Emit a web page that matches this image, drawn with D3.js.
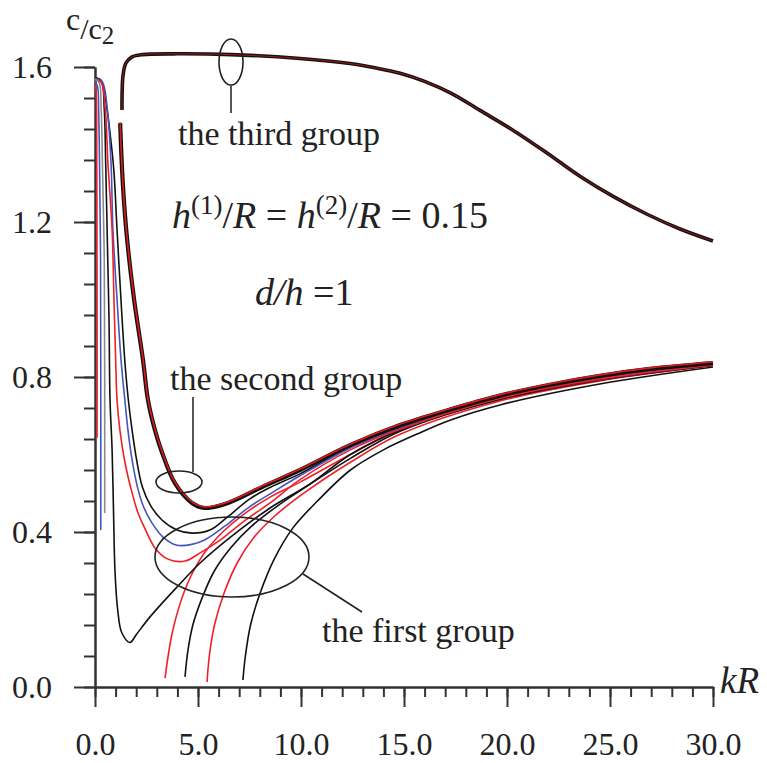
<!DOCTYPE html>
<html>
<head>
<meta charset="utf-8">
<script src="https://cdn.jsdelivr.net/npm/d3@7"></script>
<style>
body { margin: 0; background: #fff; }
text { font-family: "Liberation Serif", "Times New Roman", serif; fill: #222; }
</style>
</head>
<body>
<div id="wrap"></div>
<script>
// tick values
var xMajor = [0, 5, 10, 15, 20, 25, 30];
var yMajor = [0, 0.4, 0.8, 1.2, 1.6];

// curves: [kR, c/c2]
var third = [[1.31,1.489],[1.32,1.54],[1.36,1.578],[1.5,1.61],[1.8,1.626],[2.3,1.632],[4.0,1.634],[6.6,1.632],[9.95,1.622],[12.38,1.609],[13.6,1.598],[14.81,1.584],[16.0,1.563],[17.3,1.532],[18.69,1.488],[20.29,1.437],[21.94,1.378],[23.54,1.318],[25.15,1.266],[26.80,1.220],[28.40,1.182],[30.0,1.151]];

var second = [[1.22,1.455],[1.35,1.30],[1.55,1.16],[1.9,0.999],[2.33,0.844],[2.57,0.741],[2.91,0.663],[3.25,0.606],[3.88,0.526],[4.71,0.475],[5.34,0.462],[6.46,0.475],[8.11,0.516],[9.95,0.560],[12.38,0.624],[14.81,0.676],[17.23,0.716],[19.66,0.752],[22.09,0.780],[24.51,0.803],[26.94,0.821],[30.0,0.836]];

var red1 = [[0.0,1.555],[0.05,1.54],[0.08,1.48],[0.09,1.3],[0.1,1.0],[0.1,0.643]];
var blue1 = [[0.0,1.562],[0.12,1.55],[0.18,1.48],[0.22,1.35],[0.27,1.1],[0.28,0.8],[0.28,0.405]];
var gray1 = [[0.0,1.568],[0.2,1.56],[0.3,1.49],[0.36,1.35],[0.45,1.1],[0.47,0.8],[0.47,0.449]];
var black3 = [[0.0,1.572],[0.3,1.565],[0.45,1.49],[0.52,1.35],[0.62,1.1],[0.68,0.95],[0.73,0.74],[0.83,0.612],[0.9,0.45],[0.97,0.30],[1.1,0.2],[1.3,0.14],[1.7,0.115],[2.0,0.135],[2.67,0.181],[3.98,0.258],[5.10,0.32],[6.70,0.392],[8.50,0.462],[10.44,0.524],[12.4,0.60],[14.81,0.663],[19.66,0.743],[24.5,0.794],[30,0.831]];
var red2 = [[0.0,1.568],[0.3,1.56],[0.5,1.49],[0.63,1.35],[0.83,1.18],[0.92,1.0],[1.0,0.85],[1.07,0.74],[1.21,0.663],[1.46,0.578],[1.80,0.501],[2.09,0.449],[2.43,0.408],[2.91,0.359],[3.54,0.330],[4.37,0.325],[5.10,0.346],[6.07,0.379],[7.28,0.43],[8.5,0.475],[9.95,0.535],[12.4,0.612],[14.81,0.665],[19.66,0.745],[24.5,0.795],[30,0.831]];
var blue2 = [[0.0,1.57],[0.35,1.562],[0.6,1.49],[0.78,1.35],[0.87,1.18],[1.07,1.0],[1.27,0.84],[1.45,0.74],[1.6,0.663],[1.8,0.586],[2.07,0.514],[2.38,0.462],[2.77,0.423],[3.30,0.387],[3.98,0.366],[4.7,0.368],[5.34,0.38],[6.3,0.415],[7.5,0.465],[8.7,0.505],[9.95,0.545],[12.4,0.617],[14.81,0.667],[19.66,0.746],[24.5,0.796],[30,0.832]];
var black2 = [[0.0,1.572],[0.3,1.565],[0.5,1.52],[0.75,1.42],[0.92,1.33],[1.07,1.18],[1.26,1.0],[1.45,0.84],[1.62,0.74],[1.8,0.663],[2.02,0.586],[2.3,0.516],[2.7,0.468],[3.25,0.431],[3.98,0.405],[4.71,0.397],[5.58,0.405],[6.46,0.44],[7.5,0.485],[8.5,0.515],[9.95,0.55],[12.4,0.62],[14.81,0.669],[19.66,0.747],[24.5,0.797],[30,0.832]];
var red3 = [[3.40,0.023],[3.55,0.08],[3.75,0.14],[4.1,0.21],[4.6,0.28],[5.3,0.345],[6.2,0.40],[7.2,0.445],[8.5,0.49],[10,0.53],[12.4,0.60],[14.81,0.664],[19.66,0.744],[24.5,0.793],[30,0.831]];
var black4 = [[4.37,0.026],[4.5,0.09],[4.75,0.16],[5.2,0.23],[5.8,0.30],[6.6,0.36],[7.6,0.415],[8.8,0.465],[10.2,0.515],[12.4,0.59],[14.81,0.66],[19.66,0.742],[24.5,0.792],[30,0.830]];
var red5 = [[5.44,0.013],[5.55,0.08],[5.8,0.16],[6.25,0.24],[6.9,0.32],[7.7,0.385],[8.7,0.44],[10,0.495],[12.4,0.58],[14.81,0.652],[19.66,0.738],[24.5,0.79],[30,0.829]];
var black6 = [[7.18,0.018],[7.3,0.08],[7.55,0.16],[8.0,0.24],[8.7,0.33],[9.6,0.41],[10.8,0.48],[12.4,0.56],[14.0,0.612],[15.6,0.652],[17.2,0.688],[19.66,0.728],[24.5,0.782],[30,0.826]];

var firstGroup = [
  {pts: black6, color: '#111'},
  {pts: red5, color: '#f0202a'},
  {pts: black4, color: '#111'},
  {pts: red3, color: '#f0202a'},
  {pts: black3, color: '#111'},
  {pts: black2, color: '#111'},
  {pts: blue2, color: '#4455bb'},
  {pts: red2, color: '#f0202a'},
  {pts: gray1, color: '#8a8a8a'},
  {pts: blue1, color: '#4455bb'},
  {pts: red1, color: '#f0202a'}
];

var width = 767, height = 763;

var x = d3.scaleLinear().domain([0, 30]).range([95, 713]),
    y = d3.scaleLinear().domain([0, 1.6]).range([687, 67]);

var svg = d3.select('#wrap').append('svg')
    .attr('width', width)
    .attr('height', height);

var line = d3.line()
    .x(function(d){ return x(d[0]); })
    .y(function(d){ return y(d[1]); })
    .curve(d3.curveCatmullRom.alpha(0.5));

// axes: minor then major ticks
function styleAxis(g) {
  g.selectAll('path, line').attr('stroke', '#333').attr('stroke-width', 2);
  g.selectAll('text').style('font-size', '32px').attr('fill', '#222')
    .style('font-family', '"Liberation Serif", serif');
}

svg.append('g').attr('transform', 'translate(0,687)')
  .call(d3.axisBottom(x).tickValues(d3.range(0, 31, 1)).tickSize(10).tickFormat('').tickSizeOuter(0))
  .call(styleAxis);
svg.append('g').attr('transform', 'translate(0,687)')
  .call(d3.axisBottom(x).tickValues(xMajor).tickSize(20).tickPadding(25)
    .tickFormat(d3.format('.1f')).tickSizeOuter(0))
  .call(styleAxis);

svg.append('g').attr('transform', 'translate(95,0)')
  .call(d3.axisLeft(y).tickValues(d3.range(0, 1.61, 0.08)).tickSize(11).tickFormat('').tickSizeOuter(0))
  .call(styleAxis);
svg.append('g').attr('transform', 'translate(95,0)')
  .call(d3.axisLeft(y).tickValues(yMajor).tickSize(21).tickPadding(22)
    .tickFormat(d3.format('.1f')).tickSizeOuter(0))
  .call(styleAxis);

// first group thin curves
svg.selectAll('.first')
  .data(firstGroup)
  .enter().append('path')
    .attr('class', 'first')
    .attr('d', function(d){ return line(d.pts); })
    .attr('fill', 'none')
    .attr('stroke', function(d){ return d.color; })
    .attr('stroke-width', 1.6);

// second group (black + red overlapped)
svg.append('path').attr('d', line(second))
  .attr('fill', 'none').attr('stroke', '#111').attr('stroke-width', 4.2);
svg.append('path').attr('d', line(second))
  .attr('transform', 'translate(0,-1)')
  .attr('fill', 'none').attr('stroke', '#e01a1a').attr('stroke-width', 1.6);

// third group
svg.append('path').attr('d', line(third))
  .attr('fill', 'none').attr('stroke', '#111').attr('stroke-width', 3.6);
svg.append('path').attr('d', line(third))
  .attr('fill', 'none').attr('stroke', '#a01818').attr('stroke-width', 1);

// annotations
var ann = svg.append('g').attr('fill', 'none').attr('stroke', '#222').attr('stroke-width', 1.6);
ann.append('ellipse').attr('cx', 231).attr('cy', 62).attr('rx', 12).attr('ry', 23);
ann.append('line').attr('x1', 231).attr('y1', 85).attr('x2', 231).attr('y2', 113).attr('stroke', '#555').attr('stroke-width', 2);
ann.append('ellipse').attr('cx', 179).attr('cy', 482).attr('rx', 23).attr('ry', 11);
ann.append('line').attr('x1', 193).attr('y1', 472).attr('x2', 193).attr('y2', 397).attr('stroke', '#555').attr('stroke-width', 2);
ann.append('ellipse').attr('cx', 232).attr('cy', 557).attr('rx', 77).attr('ry', 40);
ann.append('line').attr('x1', 303).attr('y1', 574).attr('x2', 362).attr('y2', 612);

svg.append('text').attr('x', 178).attr('y', 145).style('font-size', '34px').text('the third group');
svg.append('text').attr('x', 170).attr('y', 390).style('font-size', '34px').text('the second group');
svg.append('text').attr('x', 322).attr('y', 642).style('font-size', '34px').text('the first group');

var t1 = svg.append('text').attr('x', 172).attr('y', 228).style('font-size', '38px');
t1.append('tspan').style('font-style', 'italic').text('h');
t1.append('tspan').attr('dy', -14).style('font-size', '27px').text('(1)');
t1.append('tspan').attr('dy', 14).text('/');
t1.append('tspan').style('font-style', 'italic').text('R');
t1.append('tspan').text(' = ');
t1.append('tspan').style('font-style', 'italic').text('h');
t1.append('tspan').attr('dy', -14).style('font-size', '27px').text('(2)');
t1.append('tspan').attr('dy', 14).text('/');
t1.append('tspan').style('font-style', 'italic').text('R');
t1.append('tspan').text(' = 0.15');

var t2 = svg.append('text').attr('x', 255).attr('y', 305).style('font-size', '38px');
t2.append('tspan').style('font-style', 'italic').text('d/h');
t2.append('tspan').text(' =1');

svg.append('text').attr('x', 720).attr('y', 693).style('font-size', '37px')
  .style('font-style', 'italic').text('kR');

var cl = svg.append('text').attr('x', 66).attr('y', 30).style('font-size', '32px');
cl.append('tspan').text('c');
cl.append('tspan').attr('dy', 9).style('font-size', '30px').text('/c');
cl.append('tspan').attr('dy', 5).style('font-size', '25px').text('2');
</script>
</body>
</html>
